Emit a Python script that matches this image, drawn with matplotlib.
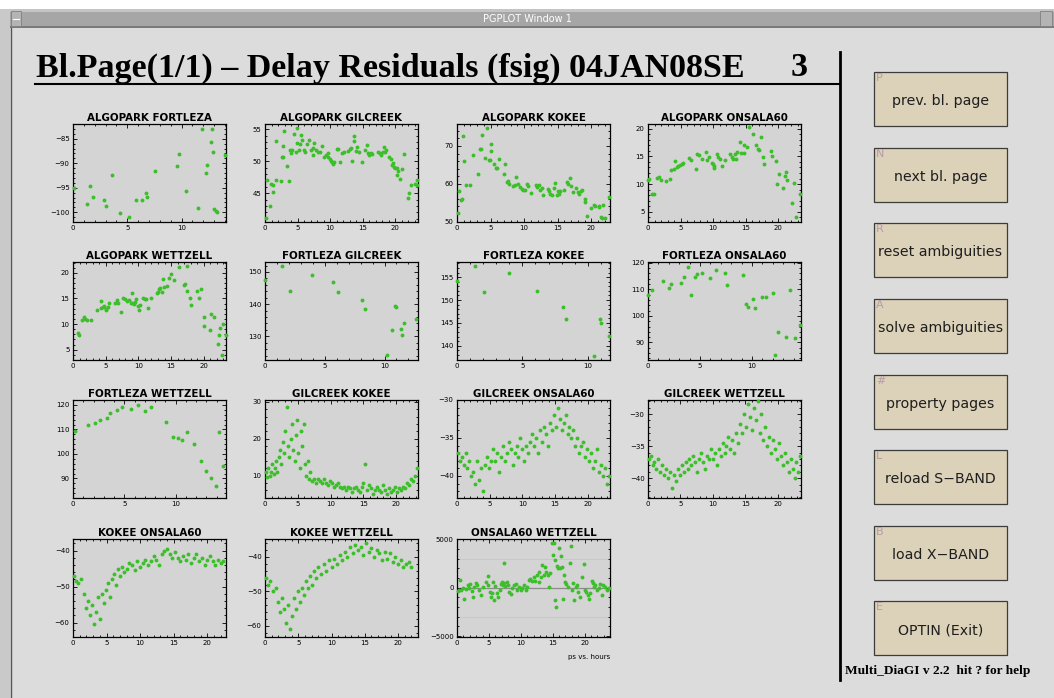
import matplotlib
matplotlib.use('Agg')
import matplotlib.pyplot as plt
from matplotlib.patches import Rectangle
from matplotlib.ticker import MultipleLocator

# ---------------- data (hours, residual ps) ----------------
ap_fo_h = [0.1, 1.3, 1.6, 1.85, 2.9, 3.05, 3.6, 4.3, 5.2, 5.85, 6.4, 6.7, 6.85, 7.55, 9.55, 9.8, 10.4,
           11.5, 11.9, 12.25, 12.35, 12.7, 12.8, 12.9, 13.0, 13.2, 13.3, 14.0]
ap_fo_r = [-95.1, -98.3, -94.6, -96.8, -97.6, -98.8, -92.4, -100.1, -101.0, -97.5, -97.5, -96.0, -96.8,
           -91.6, -90.5, -88.2, -95.7, -99.2, -83.1, -92.1, -90.4, -85.7, -83.1, -87.8, -99.4, -99.7,
           -99.9, -88.3]

ap_gc_h = [0.1, 0.3, 0.7, 0.9, 1.2, 1.3, 1.65, 1.75, 2.5, 2.6, 2.8, 2.9, 2.8, 3.4, 3.7, 3.9, 4.0, 4.2,
           4.4, 4.8, 4.95, 4.95, 5.2, 5.4, 5.5, 5.7, 6.0, 6.2, 6.5, 6.75, 7.0, 7.3, 7.4, 7.6, 7.9, 8.2,
           8.45, 8.7, 9.0, 9.3, 9.6, 9.7, 10.0, 10.1, 10.25, 10.4, 10.6, 11.0, 11.2, 11.55, 11.8, 12.1,
           12.7, 13.0, 13.2, 13.3, 13.6, 13.7, 14.0, 14.2, 14.5, 14.9, 15.3, 15.6, 15.8, 16.0, 16.3,
           16.5, 17.3, 17.6, 17.8, 18.1, 18.35, 18.45, 18.6, 19.0, 19.3, 19.5, 19.6, 19.8, 20.0, 20.2,
           20.3, 20.5, 20.7, 21.1, 21.3, 22.0, 22.1, 22.5, 23.0, 23.35, 23.35]
ap_gc_r = [41.2, 47.0, 43.0, 46.5, 45.2, 46.3, 53.2, 47.1, 46.9, 50.6, 50.6, 54.7, 52.4, 49.3, 46.9,
           51.8, 51.2, 51.8, 54.2, 51.5, 55.2, 52.9, 51.8, 52.6, 54.1, 53.3, 51.8, 51.5, 52.6, 53.3,
           51.8, 52.0, 50.9, 52.8, 51.8, 51.4, 51.4, 52.3, 50.6, 51.0, 51.3, 50.7, 50.4, 50.0, 49.8,
           49.5, 49.8, 51.9, 51.9, 49.9, 51.2, 51.4, 51.6, 51.9, 52.0, 50.0, 53.1, 54.0, 51.6, 52.2,
           51.5, 49.8, 51.8, 52.5, 51.2, 51.0, 51.2, 51.1, 51.5, 51.2, 51.0, 51.5, 52.2, 51.5, 51.8,
           50.6, 50.4, 49.4, 49.7, 49.1, 49.0, 48.9, 47.8, 48.5, 47.2, 48.8, 51.1, 44.2, 45.1, 46.3,
           46.4, 47.0, 46.3]

ap_ko_h = [0.2, 0.35, 0.65, 0.8, 0.95, 1.1, 1.35, 1.9, 2.4, 3.2, 3.4, 3.6, 3.7, 4.2, 4.4, 4.7, 4.9,
           5.0, 5.1, 5.5, 5.8, 6.0, 6.3, 7.0, 7.2, 7.4, 7.6, 7.8, 8.4, 8.6, 8.8, 9.1, 9.4, 9.7, 9.9,
           10.2, 10.4, 10.6, 11.0, 11.7, 11.9, 12.2, 12.4, 12.6, 12.8, 13.5, 13.7, 13.9, 14.1, 14.4,
           14.6, 14.9, 15.1, 15.2, 15.4, 15.9, 16.4, 16.6, 16.8, 17.0, 17.3, 17.7, 18.0, 18.2, 18.5,
           18.7, 19.0, 19.1, 19.3, 20.0, 20.4, 20.6, 21.1, 21.2, 21.4, 21.6, 21.8, 22.1, 22.6]
ap_ko_r = [52.4, 58.0, 55.7, 55.9, 72.6, 66.0, 59.6, 59.7, 67.5, 62.7, 69.2, 69.2, 73.0, 66.8, 74.8,
           66.4, 66.2, 68.7, 70.6, 65.3, 64.1, 64.1, 66.6, 62.7, 65.3, 60.6, 60.8, 59.9, 59.5, 59.6,
           61.7, 60.0, 59.1, 58.6, 58.3, 58.4, 60.0, 59.4, 57.6, 59.6, 59.2, 59.6, 58.3, 59.0, 57.1,
           58.6, 58.0, 57.4, 57.0, 58.9, 60.1, 57.0, 58.1, 57.4, 58.0, 58.3, 60.6, 59.9, 61.5, 59.5,
           57.7, 58.8, 57.7, 57.4, 58.0, 58.3, 55.3, 55.9, 51.6, 53.5, 54.4, 54.2, 54.2, 53.8, 51.3,
           51.0, 54.4, 51.0, 56.4]

ap_on_h = [0.05, 0.2, 0.6, 0.9, 1.4, 1.7, 1.95, 2.7, 3.35, 3.6, 4.0, 4.2, 4.4, 4.6, 4.9, 5.2, 5.4,
           6.3, 6.6, 7.3, 7.6, 7.9, 8.3, 8.9, 9.1, 9.4, 9.8, 10.0, 10.1, 10.2, 10.6, 10.8, 11.0, 11.4,
           11.8, 12.6, 12.9, 13.1, 13.3, 13.5, 13.6, 14.1, 14.3, 14.7, 14.8, 15.2, 15.5, 16.1, 16.6,
           16.9, 17.1, 17.4, 17.7, 17.8, 18.9, 19.1, 19.6, 19.8, 20.1, 20.8, 21.0, 21.2, 21.4, 22.1,
           22.4, 22.7, 23.3]
ap_on_r = [10.7, 11.0, 8.2, 8.2, 11.1, 11.2, 10.7, 10.5, 11.0, 12.6, 12.8, 14.2, 13.1, 13.3, 13.4,
           13.6, 13.8, 14.7, 14.3, 12.7, 15.5, 15.3, 14.5, 15.9, 14.4, 14.9, 13.9, 13.6, 12.9, 13.2,
           15.4, 14.9, 14.6, 13.3, 14.3, 15.5, 14.9, 14.5, 15.4, 14.6, 15.8, 17.7, 15.7, 15.7, 17.0,
           16.7, 20.3, 19.1, 17.0, 16.4, 16.2, 18.6, 14.9, 13.6, 16.0, 15.1, 14.1, 10.0, 11.8, 9.2,
           11.5, 12.1, 10.8, 6.5, 10.2, 4.0, 8.1]

ap_we_h = [0.7, 0.9, 1.4, 1.7, 1.8, 2.2, 2.8, 3.7, 4.3, 4.3, 4.6, 4.8, 5.0, 5.1, 5.3, 5.5, 6.4, 6.7,
           6.9, 7.4, 7.7, 8.0, 8.2, 8.6, 8.8, 9.0, 9.0, 9.3, 9.5, 9.7, 10.0, 10.1, 10.3, 10.7, 11.0,
           11.1, 11.5, 11.9, 12.8, 13.0, 13.1, 13.3, 13.6, 13.8, 13.9, 14.3, 14.7, 15.0, 15.5, 16.2,
           16.9, 17.1, 17.4, 17.5, 17.9, 18.0, 19.0, 19.2, 19.6, 20.0, 20.1, 20.9, 21.1, 21.5, 22.1,
           22.3, 22.5, 22.8, 23.0, 23.4]
ap_we_r = [8.2, 7.8, 10.8, 11.4, 10.9, 10.8, 10.8, 12.8, 14.5, 13.1, 13.3, 13.5, 13.0, 12.7, 13.3,
           14.2, 14.2, 14.6, 14.2, 12.3, 15.1, 14.8, 14.5, 14.6, 14.1, 16.1, 14.2, 14.0, 14.4, 14.8,
           13.5, 12.8, 13.7, 15.1, 14.8, 14.9, 13.1, 15.1, 16.1, 16.2, 16.9, 17.1, 16.2, 18.8, 17.2,
           17.4, 18.9, 19.8, 18.6, 21.2, 17.6, 17.8, 16.5, 21.3, 15.0, 13.7, 16.5, 15.0, 16.9, 9.7,
           11.3, 8.8, 12.0, 11.3, 6.1, 7.8, 9.2, 4.0, 10.1, 7.9]

fo_gc_h = [0.03, 1.4, 2.05, 3.96, 5.7, 6.1, 8.15, 8.4, 10.2, 10.6, 10.9, 11.0, 11.4, 11.5, 11.6, 12.6]
fo_gc_r = [147.6, 151.8, 144.2, 149.0, 146.9, 143.9, 141.3, 138.4, 124.1, 131.8, 139.3, 139.0,
           132.2, 130.5, 134.2, 135.4]

fo_ko_h = [0.03, 1.4, 2.1, 4.0, 6.1, 8.1, 8.3, 10.5, 10.9, 11.0, 11.6]
fo_ko_r = [154.1, 157.4, 151.8, 155.9, 152.0, 148.5, 145.9, 137.8, 145.9, 144.9, 142.2]

fo_on_h = [0.03, 0.4, 1.45, 2.0, 2.2, 3.2, 3.45, 3.8, 4.1, 4.5, 4.7, 5.2, 6.0, 6.5, 7.4, 7.6, 9.1,
           9.4, 9.6, 10.1, 10.3, 11.0, 11.3, 12.0, 12.2, 12.5, 13.3, 13.6, 14.1, 14.6]
fo_on_r = [107.8, 109.8, 113.0, 110.5, 112.0, 112.5, 114.5, 118.5, 107.8, 114.8, 115.8, 116.3, 114.3,
           117.1, 116.3, 111.8, 115.4, 104.5, 103.5, 106.5, 102.8, 107.0, 107.0, 108.6, 85.1, 94.1,
           92.1, 109.9, 91.8, 96.6]

fo_we_h = [0.2, 1.5, 2.1, 2.6, 3.3, 3.6, 4.3, 4.8, 5.6, 6.3, 7.0, 7.6, 9.1, 9.7, 10.2, 10.6, 11.1,
           11.8, 12.5, 13.0, 13.4, 13.9, 14.2, 14.6]
fo_we_r = [109.5, 112.0, 112.5, 114.0, 114.5, 116.5, 118.0, 119.0, 118.5, 120.0, 117.5, 119.0, 113.0,
           107.0, 106.5, 105.5, 109.0, 104.0, 97.0, 93.0, 90.0, 87.0, 109.0, 95.0]

gc_ko_h = [0.1, 0.3, 0.5, 0.7, 0.9, 1.1, 1.3, 1.5, 1.7, 1.9, 2.1, 2.3, 2.5, 2.7, 2.9, 3.1, 3.3, 3.5,
           3.7, 3.9, 4.1, 4.3, 4.5, 4.7, 4.9, 5.1, 5.3, 5.5, 5.7, 5.9, 6.1, 6.3, 6.5, 6.7, 6.9, 7.2,
           7.5, 7.8, 8.1, 8.4, 8.7, 9.0, 9.3, 9.6, 9.9, 10.2, 10.5, 10.8, 11.1, 11.4, 11.7, 12.0,
           12.3, 12.6, 12.9, 13.2, 13.5, 13.8, 14.1, 14.4, 14.7, 15.0, 15.3, 15.6, 15.9, 16.2, 16.5,
           16.8, 17.1, 17.4, 17.7, 18.0, 18.3, 18.6, 18.9, 19.2, 19.5, 19.8, 20.1, 20.4, 20.7, 21.0,
           21.3, 21.6, 21.9, 22.2, 22.5, 22.8, 23.1]
gc_ko_r = [11, 9.5, 12, 10, 11, 13, 10.5, 12, 14, 11, 15, 17, 13, 19, 16, 22, 28.5, 18, 15, 20, 24,
           17, 14, 21, 25, 16, 12, 22, 18, 24, 13, 10, 14, 9, 11, 8.5, 9, 8, 9, 8.5, 8, 9, 8, 7.5, 8.5,
           8, 7, 7.5, 8, 7, 6.5, 7, 6, 7, 6.5, 5.5, 6.5, 7, 6, 5.5, 7, 8, 13, 6, 7.5, 6.5, 5, 6, 7, 6,
           5.5, 7.5, 6, 5, 6.5, 5.5, 6, 7, 5.5, 6.5, 6, 7, 6.5, 8, 7.5, 9, 8.5, 10, 12]

gc_on_h = [0.1, 0.4, 0.7, 1.0, 1.3, 1.6, 1.9, 2.2, 2.5, 2.8, 3.1, 3.4, 3.7, 4.0, 4.3, 4.6, 4.9, 5.2,
           5.5, 5.8, 6.1, 6.4, 6.7, 7.0, 7.3, 7.6, 7.9, 8.2, 8.5, 8.8, 9.1, 9.4, 9.7, 10.0, 10.3,
           10.6, 10.9, 11.2, 11.5, 11.8, 12.1, 12.4, 12.7, 13.0, 13.3, 13.6, 13.9, 14.2, 14.5, 14.8,
           15.1, 15.4, 15.7, 16.0, 16.3, 16.6, 16.9, 17.2, 17.5, 17.8, 18.1, 18.4, 18.7, 19.0, 19.3,
           19.6, 19.9, 20.2, 20.5, 20.8, 21.1, 21.4, 21.7, 22.0, 22.3, 22.6, 22.9, 23.2]
gc_on_r = [-37, -38, -37.5, -38.5, -37, -39, -38, -40, -39.5, -41, -38, -40.5, -39, -42, -38.5, -37.5,
           -39, -38, -36.5, -38, -37, -39.5, -37.5, -36, -38, -37, -35.5, -36.5, -38.5, -37, -36,
           -37.5, -35, -36.5, -38, -36, -37, -35.5, -34.5, -36, -35, -37, -34, -35.5, -33.5, -34.5,
           -36, -33, -34, -32, -33.5, -31, -32.5, -34, -33, -32, -34.5, -33.5, -35, -34, -36, -35,
           -37, -36, -35.5, -37.5, -36.5, -38, -37, -39, -38, -36.5, -39.5, -38.5, -40, -39, -41, -40]

gc_we_h = [0.1, 0.4, 0.7, 1.0, 1.3, 1.6, 1.9, 2.2, 2.5, 2.8, 3.1, 3.4, 3.7, 4.0, 4.3, 4.6, 4.9, 5.2,
           5.5, 5.8, 6.1, 6.4, 6.7, 7.0, 7.3, 7.6, 7.9, 8.2, 8.5, 8.8, 9.1, 9.4, 9.7, 10.0, 10.3,
           10.6, 10.9, 11.2, 11.5, 11.8, 12.1, 12.4, 12.7, 13.0, 13.3, 13.6, 13.9, 14.2, 14.5, 14.8,
           15.1, 15.4, 15.7, 16.0, 16.3, 16.6, 16.9, 17.2, 17.5, 17.8, 18.1, 18.4, 18.7, 19.0, 19.3,
           19.6, 19.9, 20.2, 20.5, 20.8, 21.1, 21.4, 21.7, 22.0, 22.3, 22.6, 22.9, 23.2, 23.5]
gc_we_r = [-37, -36.5, -38, -37.5, -38.5, -37, -39, -38, -39.5, -38.5, -40, -39, -41.5, -39.5, -40.5,
           -38.5, -39.5, -38, -39, -37.5, -38.5, -37, -38, -36.5, -37.5, -39, -37, -36, -37.5, -38.5,
           -36.5, -37, -35.5, -37, -36, -38, -35.5, -36.5, -34.5, -36, -35, -33.5, -35.5, -34, -36,
           -33, -34.5, -31.5, -33, -30, -32, -28.5, -30.5, -32.5, -29, -31, -28, -33, -30, -34, -32,
           -35, -33.5, -36, -34, -35.5, -37, -34.5, -36.5, -38, -36, -37.5, -39, -37, -38.5, -40,
           -37.5, -39, -36.5]

ko_on_h = [0.1, 0.4, 0.8, 1.2, 1.6, 1.9, 2.2, 2.5, 2.8, 3.1, 3.4, 3.7, 4.0, 4.3, 4.6, 4.9, 5.2, 5.5,
           5.8, 6.1, 6.4, 6.7, 7.0, 7.3, 7.6, 8.0, 8.4, 8.8, 9.2, 9.6, 10.0, 10.4, 10.8, 11.2, 11.6,
           12.0, 12.4, 12.8, 13.2, 13.6, 14.0, 14.4, 14.8, 15.2, 15.6, 16.0, 16.4, 16.8, 17.2, 17.6,
           18.0, 18.4, 18.8, 19.2, 19.6, 20.0, 20.4, 20.8, 21.2, 21.6, 22.0, 22.4]
ko_on_r = [-47, -48.5, -49, -48, -52, -56, -54, -58, -55, -60.5, -57, -53, -59, -52, -54.5, -51, -49,
           -53, -48, -46.5, -49.5, -45, -47, -44.5, -46, -45, -43.5, -44, -45.5, -43, -44.5, -43.5,
           -42.5, -44, -43, -41.5, -42.5, -44, -41, -40, -39.5, -41, -42, -40.5, -42, -43, -41.5,
           -42.5, -41, -43.5, -42, -41, -43, -42, -44, -42.5, -41.5, -43, -44, -42.5, -43.5, -43]

ko_we_h = [0.1, 0.4, 0.8, 1.2, 1.6, 2.0, 2.3, 2.6, 2.9, 3.2, 3.5, 3.8, 4.1, 4.4, 4.7, 5.0, 5.3, 5.6,
           5.9, 6.2, 6.5, 6.8, 7.1, 7.4, 7.7, 8.0, 8.4, 8.8, 9.2, 9.6, 10.0, 10.4, 10.8, 11.2, 11.6,
           12.0, 12.4, 12.8, 13.2, 13.6, 14.0, 14.4, 14.8, 15.2, 15.6, 16.0, 16.4, 16.8, 17.2, 17.6,
           18.0, 18.4, 18.8, 19.2, 19.6, 20.0, 20.4, 20.8, 21.2, 21.6, 22.0]
ko_we_r = [-46, -48, -47, -50, -49, -53, -56, -52, -55, -59, -54, -61, -57, -52, -55, -50, -53, -49,
           -51, -47, -49, -45.5, -48, -44, -46, -43, -45, -42, -44, -41, -43, -40.5, -42, -39.5, -41,
           -38.5, -40, -37, -39, -36.5, -38, -37, -39.5, -36, -38.5, -37.5, -40, -38, -39, -41,
           -38.5, -40.5, -39, -41.5, -40, -42, -41, -43, -42, -41.5, -43]

on_we_h = [0.15, 0.25, 0.45, 0.7, 0.95, 1.15, 1.4, 1.65, 1.9, 2.1, 2.3, 2.55, 2.7, 3.0, 3.2, 3.5,
           3.75, 4.05, 4.5, 4.8, 4.9, 5.15, 5.3, 5.45, 5.6, 5.8, 5.95, 6.2, 6.45, 6.7, 6.85, 7.05,
           7.15, 7.3, 7.4, 7.6, 7.8, 8.0, 8.2, 8.4, 8.7, 8.9, 9.2, 9.45, 9.75, 10.0, 10.25, 10.5,
           10.75, 11.0, 11.3, 11.5, 11.8, 12.05, 12.3, 12.6, 12.8, 12.9, 13.1, 13.35, 13.6, 13.8,
           14.0, 14.3, 14.4, 14.65, 14.85, 15.05, 15.15, 15.3, 15.4, 15.5, 15.7, 15.85, 16.0, 16.1,
           16.3, 16.45, 16.6, 16.8, 17.0, 17.15, 17.35, 17.65, 17.85, 18.0, 18.2, 18.4, 18.6, 18.8,
           19.05, 19.3, 19.6, 19.85, 20.05, 20.25, 20.5, 20.7, 20.9, 21.1, 21.3, 21.5, 21.7, 21.9,
           22.2, 22.45, 22.7, 22.95, 23.2, 23.5, 23.8]
on_we_r = [-310, -240, 790, -240, -70, -1170, -170, 240, -70, 380, -310, -1000, 100, 450, 240, -240,
           -790, 100, 620, 1240, 240, -410, -930, -590, 620, -1280, 200, -520, -930, -240, 345, 620,
           240, 450, 2590, 200, 590, 240, -410, -650, -70, 240, 380, -240, 100, -240, -35, 240, -240,
           100, 790, 860, 720, 1070, 690, 1310, 1590, 620, 1140, 2350, 1310, 2100, 1650, 1310, 100,
           1480, 4660, 3380, 4590, 2860, -1280, -2040, 2240, 2000, 4070, 2070, 3280, 2170, -1210,
           1310, 620, 380, 100, 2520, 4310, -240, 520, -1280, 100, 240, -410, -1000, 1140, 2450,
           -240, -450, -760, -1210, -590, 690, 520, 100, 240, -240, -70, 345, -760, 280, 100, -240,
           -70]

titles = ["ALGOPARK FORTLEZA", "ALGOPARK GILCREEK", "ALGOPARK KOKEE", "ALGOPARK ONSALA60",
          "ALGOPARK WETTZELL", "FORTLEZA GILCREEK", "FORTLEZA KOKEE", "FORTLEZA ONSALA60",
          "FORTLEZA WETTZELL", "GILCREEK KOKEE", "GILCREEK ONSALA60", "GILCREEK WETTZELL",
          "KOKEE ONSALA60", "KOKEE WETTZELL", "ONSALA60 WETTZELL"]
hours = [ap_fo_h, ap_gc_h, ap_ko_h, ap_on_h, ap_we_h, fo_gc_h, fo_ko_h, fo_on_h, fo_we_h,
         gc_ko_h, gc_on_h, gc_we_h, ko_on_h, ko_we_h, on_we_h]
resid = [ap_fo_r, ap_gc_r, ap_ko_r, ap_on_r, ap_we_r, fo_gc_r, fo_ko_r, fo_on_r, fo_we_r,
         gc_ko_r, gc_on_r, gc_we_r, ko_on_r, ko_we_r, on_we_r]
x_max = [14.1, 23.5, 22.8, 23.5, 23.4, 12.8, 11.7, 14.7, 14.9, 23.3, 23.4, 23.6, 22.8, 23.0, 24.0]
y_lims = [(-102.0, -82.0), (40.5, 55.8), (49.9, 75.8), (3.1, 20.9), (3.0, 22.1), (122.6, 153.1),
          (136.9, 158.3), (83.4, 120.3), (82.0, 122.0), (3.9, 30.5), (-42.9, -30.0), (-43.1, -27.8),
          (-64.0, -36.8), (-63.2, -34.8), (-5100, 5050)]
y_major = [5, 5, 10, 5, 5, 10, 5, 10, 10, 10, 5, 5, 10, 10, 5000]

buttons = [("P", "prev. bl. page"), ("N", "next bl. page"), ("R", "reset ambiguities"),
           ("A", "solve ambiguities"), ("#", "property pages"), ("L", "reload S\u2212BAND"),
           ("B", "load X\u2212BAND"), ("E", "OPTIN (Exit)")]

# ---------------- figure ----------------
W, H = 1054, 698
BG = '#dcdcdc'
fig = plt.figure(figsize=(W / 100, H / 100), dpi=100)
fig.patch.set_facecolor(BG)

bg = fig.add_axes([0, 0, 1, 1])
bg.set_xlim(0, W)
bg.set_ylim(H, 0)
bg.axis('off')

# window chrome
bg.add_patch(Rectangle((0, 0), W, 9, facecolor='white', edgecolor='none'))
bg.add_patch(Rectangle((0, 9), 10, H - 9, facecolor='#c9c9c9', edgecolor='none'))
bg.plot([10.5, 10.5], [28, H], color='#555555', lw=1.0)
bg.add_patch(Rectangle((10, 9), W - 10, 19, facecolor='#a6a6a6', edgecolor='none'))
bg.add_patch(Rectangle((10, 9), W - 10, 3, facecolor='#c4c4c4', edgecolor='none'))
bg.add_patch(Rectangle((10, 26), W - 10, 2, facecolor='#7a7a7a', edgecolor='none'))
bg.add_patch(Rectangle((11, 11), 10, 15, facecolor='#b4b4b4', edgecolor='#808080', lw=0.6))
bg.plot([13, 19], [18.5, 18.5], color='white', lw=0.8)
bg.add_patch(Rectangle((1040, 11), 12, 15, facecolor='#b4b4b4', edgecolor='#808080', lw=0.6))
bg.text(527, 19, "PGPLOT Window 1", color='white', fontsize=7, ha='center', va='center',
        family='DejaVu Sans')

# page title
bg.text(36, 68, "Bl.Page(1/1) \u2013 Delay Residuals (fsig) 04JAN08SE", fontsize=24.5,
        fontweight='bold', family='Liberation Serif', ha='left', va='center', color='black')
bg.text(808, 68, "3", fontsize=24.5, fontweight='bold', family='Liberation Serif', ha='right',
        va='center', color='black')
bg.plot([35, 840], [84, 84], color='black', lw=1.5)
bg.plot([840, 840], [52, 680], color='black', lw=2.0)

# buttons
btn_top = [72, 148, 223, 299, 375, 450, 526, 601]
for (key, label), top in zip(buttons, btn_top):
    bg.add_patch(Rectangle((874, top), 133, 54, facecolor='#dcd1b9', edgecolor='#3c3c3c', lw=0.9))
    bg.text(876, top + 1, key, color='#b89aaa', fontsize=8, ha='left', va='top', family='DejaVu Sans')
    bg.text(940.5, top + 29, label, color='#1e1e1e', fontsize=10.2, ha='center', va='center',
            family='DejaVu Sans')

bg.text(845, 671, "Multi_DiaGI v 2.2  hit ? for help", fontsize=9.6, fontweight='bold',
        family='Liberation Serif', ha='left', va='center', color='black')

# ---------------- panels ----------------
col_left = [73, 265, 457, 648]
row_top = [124, 262, 400, 539]
pw, ph = 153, 98

for i, title in enumerate(titles):
    r, c = divmod(i, 4)
    left = col_left[c]
    top = row_top[r]
    ax = fig.add_axes([left / W, 1 - (top + ph) / H, pw / W, ph / H])
    ax.set_facecolor('#d4d4d4')
    if title == "ONSALA60 WETTZELL":
        ax.axhline(0, color='#8c8c8c', lw=0.9, zorder=1)
        ax.axhline(3000, color='#c6c6c6', lw=0.6, zorder=1)
        ax.axhline(-3000, color='#c6c6c6', lw=0.6, zorder=1)
    ax.plot(hours[i], resid[i], linestyle='none', marker='o', ms=2.8, mec='none',
            color='#3cbf2a', zorder=3, clip_on=False)
    ax.set_xlim(0, x_max[i])
    ax.set_ylim(*y_lims[i])
    ax.xaxis.set_major_locator(MultipleLocator(5))
    ax.xaxis.set_minor_locator(MultipleLocator(1))
    ax.yaxis.set_major_locator(MultipleLocator(y_major[i]))
    ax.yaxis.set_minor_locator(MultipleLocator(y_major[i] / 5))
    ax.tick_params(which='both', direction='in', top=True, right=True, labelsize=5,
                   colors='black', width=0.6, pad=2.5)
    ax.tick_params(which='major', length=3)
    ax.tick_params(which='minor', length=1.5)
    for s in ax.spines.values():
        s.set_linewidth(0.9)
        s.set_color('black')
    ax.set_title(title, fontsize=7.4, fontweight='bold', pad=2.5, family='DejaVu Sans')
    if title == "ONSALA60 WETTZELL":
        ax.text(1.0, -0.17, "ps vs. hours", transform=ax.transAxes, fontsize=5, ha='right',
                va='top')

fig.savefig('out.png', dpi=100, facecolor=BG)
